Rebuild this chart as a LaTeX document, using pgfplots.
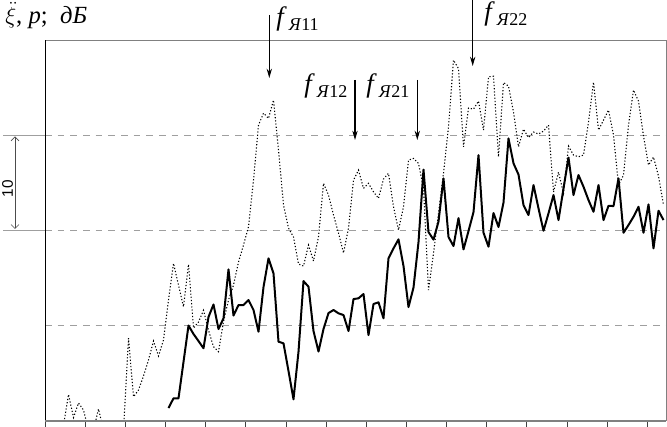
\documentclass[border=0pt]{standalone}
\usepackage{fontspec}
\setmainfont{Liberation Serif}
\newfontfamily\arialfont{Liberation Sans}
\usepackage{pgfplots}
\pgfplotsset{compat=1.18}
\usetikzlibrary{arrows.meta}

% p (dotted), dB, index n -> 5 px steps
\pgfplotstableread{
n y
0 -0.5
1 2.75
2 0.34
3 1.86
4 1.12
5 -1
6 -1
7 1.23
8 -1
9 -1
10 -1
11 -1
12 -1
13 8.66
14 2.52
15 3.22
16 4.70
17 6.38
18 8.37
19 6.80
20 8.48
21 12.68
22 16.53
23 14.25
24 11.97
25 16.43
26 9.74
27 10.37
28 11.60
29 9.50
30 7.77
31 7.25
32 10.40
33 12.68
34 14.25
35 16.67
36 18.46
37 20.38
38 25.28
39 31.06
40 32.32
41 31.76
42 33.69
43 28.43
44 22.66
45 20.24
46 19.30
47 16.46
48 16.25
49 18.45
50 16.78
51 19.33
52 24.94
53 23.71
54 21.61
55 19.72
56 17.62
57 20.24
58 25.28
59 26.33
60 24.41
61 24.94
62 24.05
63 23.36
64 25.39
65 25.99
66 22.48
67 20.03
68 22.48
69 27.38
70 27.56
71 27.04
72 24.44
73 13.73
74 17.58
75 21.79
76 25.99
77 30.88
78 37.89
79 37.00
80 28.78
81 32.85
82 32.74
83 33.58
84 30.54
85 36.13
86 36.20
87 27.73
88 35.53
89 35.16
90 32.43
91 28.78
92 30.64
93 29.75
94 30.33
95 30.12
96 30.43
97 31.06
98 24.02
99 26.12
100 23.89
101 28.85
102 27.91
103 27.73
104 27.91
105 31.38
106 35.58
107 30.54
108 31.59
109 32.64
110 30.02
111 24.76
112 25.81
113 31.06
114 34.74
115 33.58
116 29.91
117 26.86
118 27.70
119 25.70
120 22.66
}\specP

% xi (solid), dB
\pgfplotstableread{
n y
21 1.33
22 2.35
23 2.35
24 6.17
25 10.00
26 9.11
27 8.37
28 7.61
29 10.89
30 12.21
31 9.63
32 10.76
33 15.90
34 11.05
35 12.15
36 12.15
37 12.68
38 11.63
39 9.35
40 14.04
41 17.06
42 15.48
43 8.30
44 8.13
45 5.22
46 2.25
47 7.25
48 14.67
49 14.08
50 9.42
51 7.27
52 9.63
53 11.31
54 11.63
55 11.28
56 11.10
57 9.42
58 12.78
59 12.86
60 13.31
61 9.00
62 12.26
63 12.44
64 10.76
65 17.06
66 18.11
67 19.05
68 16.25
69 11.94
70 13.99
71 18.77
72 26.39
73 19.82
74 19.03
75 20.92
76 25.46
77 19.30
78 18.35
79 21.29
80 18.00
81 19.93
82 21.92
83 27.91
84 19.75
85 18.28
86 21.82
87 20.35
88 22.92
89 29.66
90 27.04
91 25.86
92 22.66
93 21.61
94 24.76
95 22.31
96 19.96
97 21.79
98 23.71
99 21.08
100 24.41
101 27.65
102 23.71
103 25.81
104 24.58
105 23.18
106 21.95
107 24.76
108 21.08
109 22.58
110 22.55
111 25.46
112 19.75
113 20.56
114 21.43
115 22.48
116 19.75
117 22.73
118 18.11
119 22.06
120 21.08
}\specXi

\newcommand\fl[1]{{\fontsize{20pt}{22pt}\selectfont\textit{f}}\kern1.5pt\raisebox{-3.5pt}{\fontsize{13.5pt}{15pt}\selectfont\textit{Я}#1}}

\begin{document}
\begin{tikzpicture}[x=0.75pt,y=0.75pt]
\useasboundingbox (0,0) rectangle (667,427);
\begin{axis}[
    at={(33.75pt,4.725pt)}, anchor=south west,
    scale only axis, width=465.75pt, height=285.5pt,
    xmin=-3.7, xmax=120.5, ymin=0, ymax=40,
    xtick={-3.7,4.33,...,117}, xticklabels={},
    ytick={10,20,30}, yticklabels={},
    ymajorgrids,
    grid style={gray!75, line width=0.6pt, dash pattern=on 5pt off 4.5pt},
    xtick pos=left, tick align=outside, major tick length=4.5pt,
    x tick style={black!75, line width=0.5pt},
    y tick style={draw=none},
    axis line style={gray, line width=0.6pt},
    clip mode=individual,
]
\addplot[black, line width=0.8pt, dash pattern=on 0.9pt off 1.5pt] table {\specP};
\addplot[black, line width=1.5pt, line join=round] table {\specXi};
\draw[black, line width=0.7pt] (rel axis cs:0,0) -- (rel axis cs:0,1);
\draw[gray, line width=1.4pt] (rel axis cs:0,0) -- (rel axis cs:1,0);
\end{axis}

% labels and arrows
\node[anchor=base west, inner sep=0, font=\fontsize{18.5pt}{20pt}\selectfont] at (5,403) {$\ddot{\xi}$, \textit{p};\ \ \textit{дБ}};

\node[anchor=base west, inner sep=0] at (276,401) {\fl{11}};
\node[anchor=base west, inner sep=0] at (304,334) {\fl{12}};
\node[anchor=base west, inner sep=0] at (366,334) {\fl{21}};
\node[anchor=base west, inner sep=0] at (484,406) {\fl{22}};

\draw[black, line width=0.8pt, -{Stealth[length=7pt,width=4pt]}] (269.3,412) -- (269.3,349);
\draw[black, line width=0.8pt, -{Stealth[length=7pt,width=4pt]}] (355,347) -- (355,287);
\draw[black, line width=0.8pt, -{Stealth[length=7pt,width=4pt]}] (417.3,347) -- (417.3,287);
\draw[black, line width=0.8pt, -{Stealth[length=7pt,width=4pt]}] (472.7,427) -- (472.7,361);

% 10 dB scale mark
\draw[gray!75, line width=0.6pt] (3,291.8) -- (45,291.8);
\draw[gray!75, line width=0.6pt] (3,196.6) -- (45,196.6);
\draw[gray!60!black, line width=0.5pt, {Straight Barb[length=3pt,width=6pt]}-{Straight Barb[length=3pt,width=6pt]}] (15,290.5) -- (15,198);
\node[rotate=90, inner sep=0, font=\arialfont\fontsize{11.5pt}{12pt}\selectfont] at (7.5,238.5) {10};
\end{tikzpicture}
\end{document}
